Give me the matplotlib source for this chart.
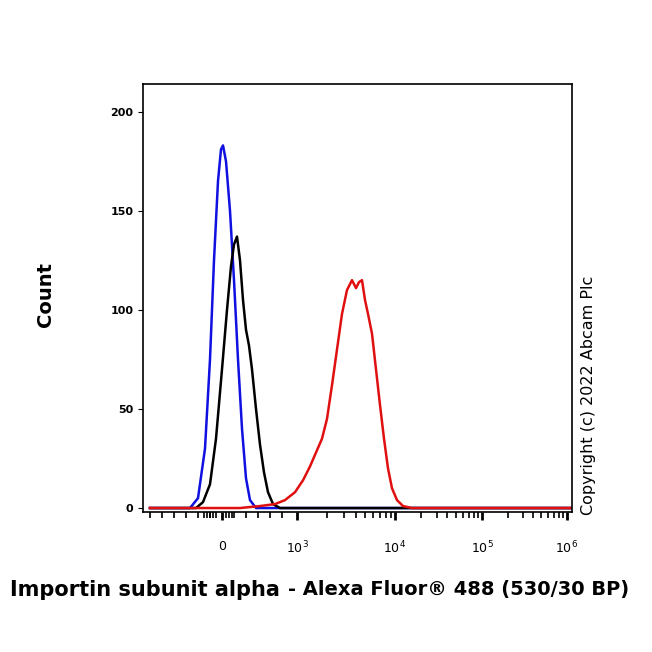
import numpy as np
import matplotlib
matplotlib.use("Agg")
import matplotlib.pyplot as plt

# x in display channel units (0 label at 222, decades at majors)
tick_pos = [222, 297, 395, 482, 567]
tick_lab = ["0", "$10^3$", "$10^4$", "$10^5$", "$10^6$"]

blue_x = [150, 190, 198, 205, 210, 214, 218, 221, 223, 226, 230, 234, 238, 242, 246, 250, 256, 265, 572]
blue_y = [0, 0, 5, 30, 75, 125, 165, 181, 183, 175, 150, 115, 75, 40, 15, 4, 0, 0, 0]
black_x = [150, 196, 203, 210, 216, 222, 227, 231, 234, 237, 240, 243, 246, 249, 252, 256, 260, 264, 268, 273, 280, 572]
black_y = [0, 0, 3, 12, 35, 70, 100, 122, 133, 137, 125, 105, 90, 82, 70, 50, 32, 18, 8, 2, 0, 0]
red_x = [150, 240, 260, 275, 285, 295, 303, 310, 316, 322, 327, 332, 337, 342, 347, 352, 356, 359, 362, 365, 368, 372, 376, 380, 384, 388, 392, 397, 403, 412, 572]
red_y = [0, 0, 1, 2, 4, 8, 14, 21, 28, 35, 45, 62, 80, 98, 110, 115, 111, 114, 115, 105, 98, 88, 70, 52, 35, 20, 10, 4, 1, 0, 0]

fig = plt.figure(figsize=(6.52, 6.52), dpi=100)
ax = fig.add_axes([143/652, 1-512/652, (572-143)/652, (512-84)/652])
ax.plot(blue_x, blue_y, color="#1010e0", lw=1.8)
ax.plot(black_x, black_y, color="black", lw=1.8)
ax.plot(red_x, red_y, color="#e01010", lw=1.8)
ax.set_xlim(143, 572)
ax.set_ylim(-2, 214)
ax.set_yticks([0, 50, 100, 150, 200])
ax.set_yticklabels(["0", "50", "100", "150", "200"], fontsize=8, fontweight="bold")
ax.set_xticks(tick_pos)
ax.set_xticklabels(tick_lab, fontsize=9)
ax.tick_params(axis="x", length=6, width=2, pad=14)
minor = list(range(150, 292, 12))
for i in range(1, 4):
    a, b = tick_pos[i], tick_pos[i + 1]
    minor += [a + np.log10(k) * (b - a) for k in range(2, 10)]
minor += [204, 207, 210, 213, 216, 226, 229, 232]
ax.set_xticks(minor, minor=True)
ax.tick_params(axis="x", which="minor", length=4, width=1.2)
for s in ax.spines.values():
    s.set_linewidth(1.2)
fig.text(45/652, 1-295/652, "Count", rotation=90, fontsize=14, fontweight="bold", ha="center", va="center")
fig.text(10/652, 1-590/652, "Importin subunit alpha", fontsize=15, fontweight="bold", ha="left", va="center")
fig.text(288/652, 1-590/652, "- Alexa Fluor® 488 (530/30 BP)", fontsize=14, fontweight="bold", ha="left", va="center")
fig.text(588/652, 1-395/652, "Copyright (c) 2022 Abcam Plc", rotation=90, fontsize=11.5, ha="center", va="center")
fig.savefig("out.png", dpi=100)
